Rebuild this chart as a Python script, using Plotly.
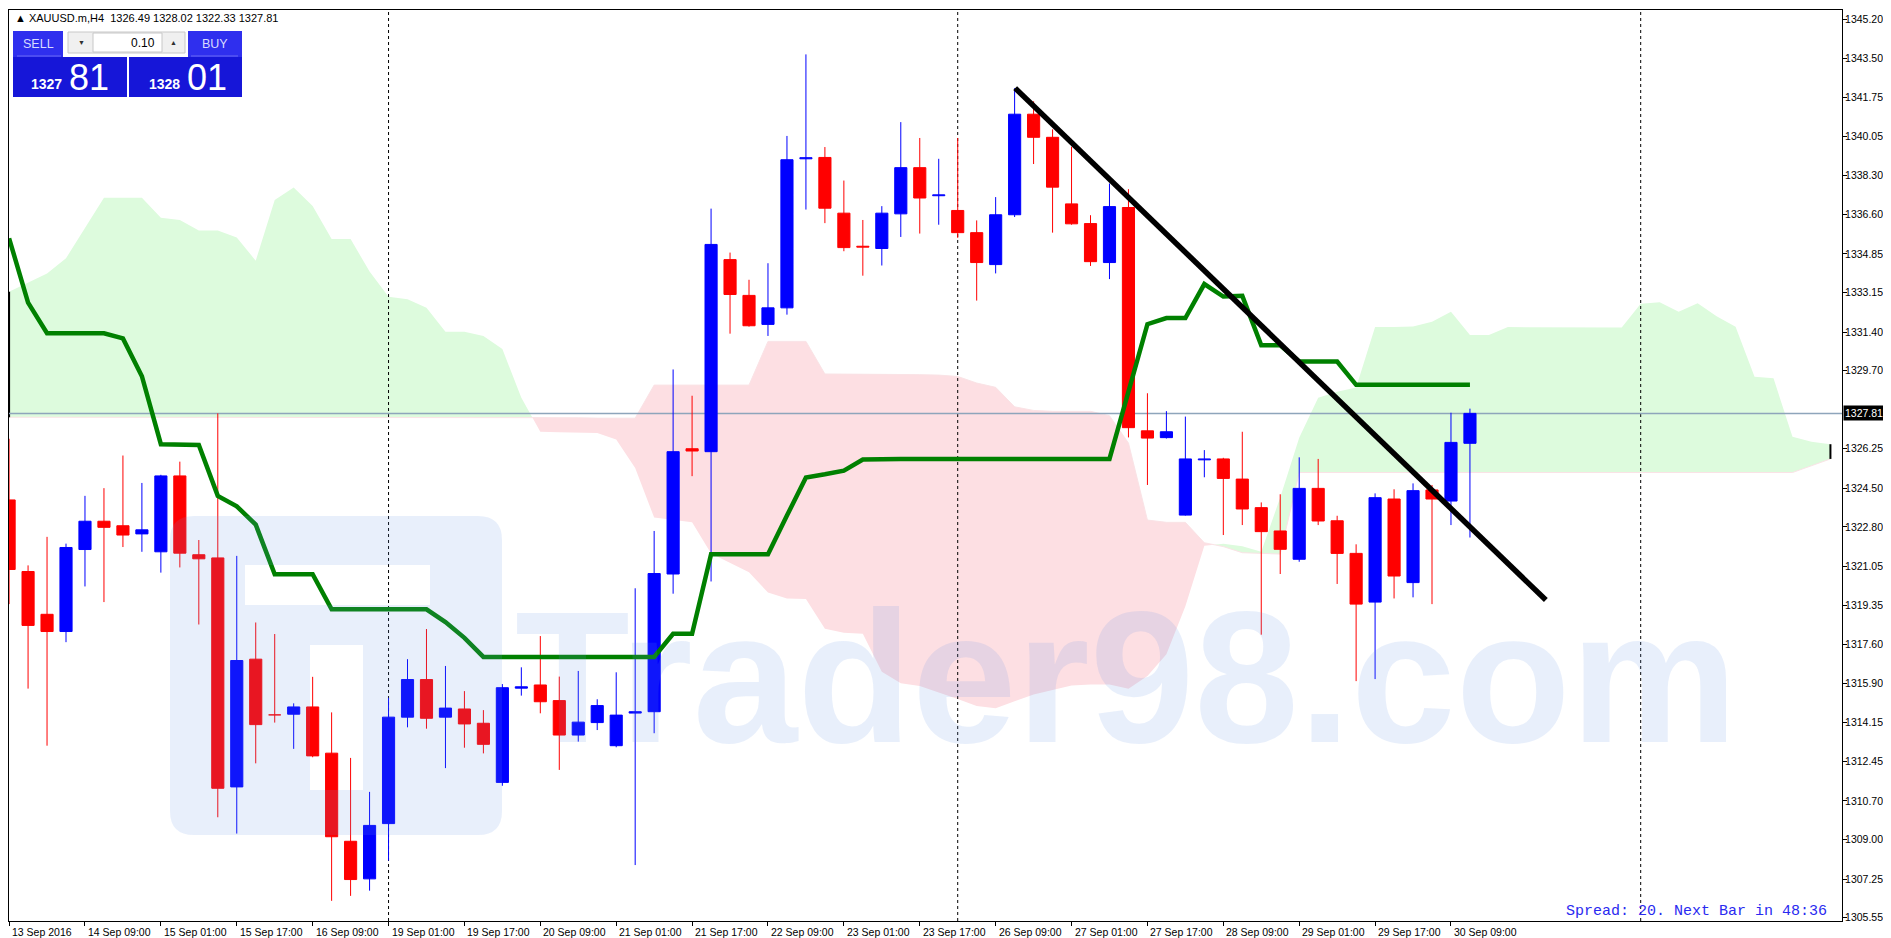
import plotly.graph_objects as go

# ---------------- data ----------------
symbol = "XAUUSD.m,H4"
tick_labels = ["13 Sep 2016", "14 Sep 09:00", "15 Sep 01:00", "15 Sep 17:00", "16 Sep 09:00",
               "19 Sep 01:00", "19 Sep 17:00", "20 Sep 09:00", "21 Sep 01:00", "21 Sep 17:00",
               "22 Sep 09:00", "23 Sep 01:00", "23 Sep 17:00", "26 Sep 09:00", "27 Sep 01:00",
               "27 Sep 17:00", "28 Sep 09:00", "29 Sep 01:00", "29 Sep 17:00", "30 Sep 09:00"]
bars_per_label = 4

opens = [1323.99, 1320.83, 1318.94, 1318.18, 1321.80, 1323.05, 1322.85, 1322.49, 1321.70, 1325.05,
         1321.57, 1321.43, 1311.32, 1316.96, 1314.53, 1314.53, 1314.85, 1312.81, 1308.92, 1307.26,
         1309.70, 1314.40, 1316.06, 1314.40, 1314.76, 1314.13, 1311.52, 1315.68, 1315.82, 1315.13,
         1313.61, 1314.16, 1313.14, 1314.58, 1314.64, 1320.72, 1326.25, 1326.12, 1334.60, 1333.02,
         1331.74, 1332.47, 1339.05, 1339.11, 1336.65, 1335.19, 1335.09, 1336.62, 1338.66, 1337.42,
         1336.77, 1335.79, 1334.38, 1336.58, 1341.02, 1340.00, 1337.06, 1336.19, 1334.47, 1336.90,
         1327.04, 1326.74, 1323.32, 1325.76, 1325.80, 1324.91, 1323.65, 1322.62, 1321.37, 1324.50,
         1323.07, 1321.63, 1319.48, 1324.03, 1320.34, 1324.43, 1323.94, 1326.49]
highs = [1326.69, 1321.10, 1322.36, 1322.06, 1324.17, 1324.51, 1325.95, 1324.74, 1325.10, 1325.68,
         1322.22, 1327.81, 1321.52, 1318.58, 1318.07, 1315.01, 1316.18, 1314.61, 1312.60, 1311.10,
         1315.25, 1316.96, 1318.29, 1316.66, 1315.55, 1314.71, 1315.86, 1316.60, 1317.98, 1316.19,
         1316.44, 1315.19, 1316.38, 1320.09, 1322.62, 1329.75, 1328.59, 1336.85, 1334.91, 1333.71,
         1334.44, 1340.06, 1343.66, 1339.57, 1338.09, 1336.35, 1336.96, 1340.67, 1339.97, 1339.05,
         1339.97, 1336.33, 1337.36, 1342.17, 1341.59, 1340.35, 1339.58, 1336.56, 1337.96, 1337.71,
         1328.70, 1327.91, 1327.67, 1326.19, 1325.85, 1327.00, 1323.88, 1324.24, 1325.87, 1325.80,
         1323.29, 1322.03, 1324.28, 1324.46, 1324.72, 1324.65, 1327.84, 1328.02]
lows = [1319.39, 1315.66, 1313.14, 1317.71, 1320.17, 1319.48, 1321.91, 1321.70, 1320.78, 1321.01,
        1318.49, 1309.98, 1309.26, 1312.36, 1314.16, 1313.00, 1312.63, 1306.29, 1306.51, 1306.74,
        1308.07, 1313.95, 1313.89, 1312.15, 1313.05, 1312.80, 1311.37, 1315.35, 1314.57, 1312.07,
        1313.32, 1313.83, 1313.07, 1307.87, 1313.69, 1319.85, 1325.04, 1320.39, 1331.33, 1331.64,
        1331.23, 1332.17, 1336.81, 1336.21, 1334.97, 1333.89, 1334.34, 1335.60, 1335.75, 1336.14,
        1335.56, 1332.79, 1333.99, 1336.48, 1338.82, 1335.79, 1336.14, 1334.32, 1333.74, 1326.75,
        1324.65, 1326.70, 1323.30, 1324.99, 1322.44, 1322.88, 1318.04, 1320.72, 1321.26, 1322.88,
        1320.28, 1315.99, 1316.08, 1319.64, 1319.69, 1319.39, 1322.88, 1322.33]
closes = [1320.92, 1318.45, 1318.18, 1321.89, 1323.05, 1322.78, 1322.44, 1322.67, 1325.05, 1321.64,
          1321.39, 1311.26, 1316.90, 1314.07, 1314.50, 1314.85, 1312.69, 1309.12, 1307.23, 1309.62,
          1314.40, 1316.06, 1314.35, 1314.80, 1314.10, 1313.20, 1315.70, 1315.74, 1315.08, 1313.61,
          1314.18, 1314.91, 1314.49, 1314.64, 1320.74, 1326.12, 1326.15, 1335.27, 1333.06, 1331.68,
          1332.47, 1339.01, 1339.10, 1336.87, 1335.13, 1335.15, 1336.65, 1338.66, 1337.32, 1337.46,
          1335.79, 1334.47, 1336.58, 1341.02, 1340.00, 1337.80, 1336.18, 1334.51, 1336.94, 1327.18,
          1326.72, 1327.00, 1325.80, 1325.80, 1324.94, 1323.59, 1322.59, 1321.81, 1324.50, 1323.06,
          1321.63, 1319.39, 1324.09, 1320.63, 1324.40, 1324.03, 1326.53, 1327.81]

kijun = [1335.54, 1332.70, 1331.35, 1331.35, 1331.35, 1331.35, 1331.12, 1329.45, 1326.45, 1326.42,
         1326.42, 1324.17, 1323.71, 1322.90, 1320.71, 1320.71, 1320.71, 1319.16, 1319.16, 1319.16,
         1319.16, 1319.16, 1319.16, 1318.60, 1317.90, 1317.06, 1317.06, 1317.06, 1317.06, 1317.06,
         1317.06, 1317.06, 1317.06, 1317.06, 1317.06, 1318.08, 1318.08, 1321.59, 1321.59, 1321.59,
         1321.59, 1323.30, 1324.98, 1325.12, 1325.28, 1325.77, 1325.80, 1325.80, 1325.80, 1325.80,
         1325.80, 1325.80, 1325.80, 1325.80, 1325.80, 1325.80, 1325.80, 1325.80, 1325.80, 1328.77,
         1331.75, 1332.02, 1332.02, 1333.52, 1332.97, 1333.00, 1330.82, 1330.82, 1330.10, 1330.10,
         1330.10, 1329.07, 1329.07, 1329.07, 1329.07, 1329.07, 1329.07, 1329.07]

span_a = [1333.18, 1333.60, 1333.99, 1334.66, 1336.02, 1337.33, 1337.33, 1337.33, 1336.45, 1336.35,
          1335.88, 1335.88, 1335.58, 1334.55, 1337.23, 1337.78, 1336.97, 1335.51, 1335.51, 1334.07,
          1332.96, 1332.85, 1332.48, 1331.42, 1331.42, 1331.23, 1330.65, 1328.50, 1327.00, 1326.98,
          1326.96, 1326.95, 1326.66, 1325.40, 1323.21, 1323.10, 1323.01, 1321.63, 1321.20, 1320.80,
          1319.90, 1319.64, 1319.62, 1318.30, 1318.13, 1318.08, 1316.40, 1315.90, 1315.78, 1315.50,
          1315.20, 1314.89, 1314.79, 1315.10, 1315.40, 1315.60, 1315.80, 1315.84, 1315.84, 1315.65,
          1316.22, 1317.18, 1319.30, 1321.97, 1322.05, 1321.95, 1321.70, 1324.10, 1326.73, 1328.50,
          1328.77, 1328.95, 1331.62, 1331.62, 1331.65, 1331.86, 1332.30, 1331.27, 1331.27, 1331.62,
          1331.62, 1331.62, 1331.62, 1331.62, 1331.62, 1331.60, 1332.65, 1332.72, 1332.30, 1332.67,
          1332.10, 1331.64, 1329.43, 1329.36, 1326.78, 1326.56, 1326.45]
span_b = [1327.64, 1327.64, 1327.64, 1327.64, 1327.64, 1327.64, 1327.64, 1327.64, 1327.64, 1327.64,
          1327.64, 1327.64, 1327.64, 1327.64, 1327.64, 1327.64, 1327.64, 1327.64, 1327.64, 1327.64,
          1327.64, 1327.64, 1327.64, 1327.64, 1327.64, 1327.64, 1327.64, 1327.64, 1327.64, 1327.62,
          1327.62, 1327.60, 1327.60, 1327.60, 1329.06, 1329.06, 1329.06, 1329.06, 1329.06, 1329.06,
          1330.99, 1330.99, 1330.99, 1329.55, 1329.55, 1329.55, 1329.55, 1329.55, 1329.52, 1329.50,
          1329.44, 1329.15, 1328.96, 1328.10, 1327.94, 1327.90, 1327.90, 1327.90, 1327.71, 1326.50,
          1323.10, 1323.00, 1323.00, 1322.10, 1321.93, 1321.66, 1321.63, 1321.60, 1325.20, 1325.20,
          1325.20, 1325.20, 1325.20, 1325.20, 1325.20, 1325.20, 1325.20, 1325.20, 1325.20, 1325.20,
          1325.20, 1325.20, 1325.20, 1325.20, 1325.20, 1325.20, 1325.20, 1325.20, 1325.20, 1325.20,
          1325.20, 1325.20, 1325.20, 1325.20, 1325.20, 1325.50, 1325.80]

price_ticks = [1345.20, 1343.50, 1341.75, 1340.05, 1338.30, 1336.60, 1334.85, 1333.15, 1331.40,
               1329.70, 1326.25, 1324.50, 1322.80, 1321.05, 1319.35, 1317.60, 1315.90, 1314.15,
               1312.45, 1310.70, 1309.00, 1307.25, 1305.55]
week_separators = [20, 50, 86]
trend_x = [53.03, 81.0]
trend_y = [1342.17, 1319.57]
bid = 1327.81
ask = 1328.01
spread_points = 20
next_bar = "48:36"
lot = "0.10"

# ---------------- geometry ----------------
# reference pixel frame is 1891x938; the page body adds an 8px margin, so the
# figure itself is 8px smaller and everything is expressed in paper units.
PAGE_W, PAGE_H, BODY = 1891, 938, 8
W, H = PAGE_W - BODY, PAGE_H - BODY
L, R, T, B = 9, 1842, 10, 921          # plot frame in reference pixels
X_MIN, X_MAX = -0.005, 96.61
Y_MIN, Y_MAX = 1305.40, 1345.62


def px(x):
    return (x - L) / (R - L)


def py(y):
    return (B - y) / (B - T)


fig = go.Figure()


# ---------------- Ichimoku cloud ----------------
def cloud_regions(a, b):
    pts = []
    n = len(a)
    for i in range(n):
        pts.append((i, a[i], b[i], False))
        if i < n - 1:
            d0 = a[i] - b[i]
            d1 = a[i + 1] - b[i + 1]
            if d0 * d1 < 0:
                t = d0 / (d0 - d1)
                yc = a[i] + t * (a[i + 1] - a[i])
                pts.append((i + t, yc, yc, True))
    regions, cur = [], [pts[0]]
    for p in pts[1:]:
        cur.append(p)
        if p[3]:
            regions.append(cur)
            cur = [p]
    regions.append(cur)
    green, pink = ([], []), ([], [])
    for reg in regions:
        s = sum(p[1] - p[2] for p in reg)
        xs = [p[0] for p in reg] + [p[0] for p in reversed(reg)]
        ys = [p[1] for p in reg] + [p[2] for p in reversed(reg)]
        tgt = green if s >= 0 else pink
        tgt[0].extend(xs + [xs[0], None])
        tgt[1].extend(ys + [ys[0], None])
    return green, pink


green_poly, pink_poly = cloud_regions(span_a, span_b)
GREEN_FILL = "#ddfbdd"
PINK_FILL = "#fddfe3"
fig.add_trace(go.Scatter(x=green_poly[0], y=green_poly[1], mode="lines", fill="toself",
                         fillcolor=GREEN_FILL, line=dict(width=0, color=GREEN_FILL),
                         hoverinfo="skip", showlegend=False))
fig.add_trace(go.Scatter(x=pink_poly[0], y=pink_poly[1], mode="lines", fill="toself",
                         fillcolor=PINK_FILL, line=dict(width=0, color=PINK_FILL),
                         hoverinfo="skip", showlegend=False))
fig.add_trace(go.Scatter(x=list(range(len(span_b))), y=span_b, mode="lines",
                         line=dict(width=1, color="#fae3e6"), hoverinfo="skip", showlegend=False))
last = len(span_a) - 1
fig.add_trace(go.Scatter(x=[0, 0, None, last, last],
                         y=[span_b[0], span_a[0], None, span_b[last], span_a[last]],
                         mode="lines", line=dict(width=2, color="black"),
                         hoverinfo="skip", showlegend=False))

# ---------------- period separators & bid line ----------------
for s in week_separators:
    fig.add_trace(go.Scatter(x=[s, s], y=[Y_MIN, Y_MAX], mode="lines",
                             line=dict(width=1, color="black", dash="3px,3px"),
                             hoverinfo="skip", showlegend=False))
fig.add_trace(go.Scatter(x=[X_MIN, X_MAX], y=[bid, bid], mode="lines",
                         line=dict(width=1.5, color="#8ea5bb"), hoverinfo="skip", showlegend=False))

# ---------------- candles ----------------
UP, DOWN = "#0000ff", "#ff0000"
HALF = 0.32
wick = {UP: ([], []), DOWN: ([], [])}
body = {UP: ([], []), DOWN: ([], [])}
for i in range(len(opens)):
    o, h, l, c = opens[i], highs[i], lows[i], closes[i]
    col = UP if c >= o else DOWN
    wick[col][0].extend([i, i, None])
    wick[col][1].extend([l, h, None])
    lo, hi = min(o, c), max(o, c)
    if hi - lo < 0.03:
        mid = (hi + lo) / 2
        lo, hi = mid - 0.015, mid + 0.015
    body[col][0].extend([i - HALF, i + HALF, i + HALF, i - HALF, i - HALF, None])
    body[col][1].extend([lo, lo, hi, hi, lo, None])
for col in (UP, DOWN):
    fig.add_trace(go.Scatter(x=wick[col][0], y=wick[col][1], mode="lines",
                             line=dict(width=1, color=col), hoverinfo="skip", showlegend=False))
for col in (UP, DOWN):
    fig.add_trace(go.Scatter(x=body[col][0], y=body[col][1], mode="lines", fill="toself",
                             fillcolor=col, line=dict(width=1, color=col),
                             hoverinfo="skip", showlegend=False))

# ---------------- Kijun & trendline ----------------
fig.add_trace(go.Scatter(x=list(range(len(kijun))), y=kijun, mode="lines",
                         line=dict(width=4.5, color="#008000"), hoverinfo="skip", showlegend=False))
fig.add_trace(go.Scatter(x=trend_x, y=trend_y, mode="lines",
                         line=dict(width=5.5, color="black"), hoverinfo="skip", showlegend=False))

# ---------------- annotations & shapes ----------------
AX_FONT = "Liberation Sans, Arial, sans-serif"
annotations = []
shapes = []

for k, lab in enumerate(tick_labels):
    annotations.append(dict(x=k * bars_per_label, xref="x", y=py(932), yref="paper",
                            text=lab, showarrow=False, xanchor="left", yanchor="middle",
                            xshift=1, font=dict(family=AX_FONT, size=10.5, color="black")))

annotations.append(dict(x=1, xref="paper", y=bid, yref="y", text="%.2f" % bid, showarrow=False,
                        xanchor="left", yanchor="middle", xshift=1, bgcolor="black", borderpad=1,
                        font=dict(family=AX_FONT, size=10.5, color="white")))

# watermark
WM = "rgba(100,150,230,0.15)"
annotations.append(dict(x=px(513), xref="paper", y=py(677), yref="paper", text="Trader98.com",
                        showarrow=False, xanchor="left", yanchor="middle",
                        font=dict(family="Liberation Sans, Arial, sans-serif",
                                  size=188, color=WM, weight="bold")))


def rounded_rect_path(x0, y0, x1, y1, r):
    return ("M{a},{b} L{c},{b} Q{x1},{b} {x1},{d} L{x1},{e} Q{x1},{y1p} {c},{y1p} "
            "L{a},{y1p} Q{x0},{y1p} {x0},{e} L{x0},{d} Q{x0},{b} {a},{b} Z").format(
        a=px(x0 + r), b=py(y0), c=px(x1 - r), d=py(y0 + r), e=py(y1 - r),
        x0=px(x0), x1=px(x1), y1p=py(y1))


def hole_path(x0, y0, x1, y1):
    return "M{a},{b} L{a},{d} L{c},{d} L{c},{b} Z".format(a=px(x0), b=py(y0), c=px(x1), d=py(y1))


icon_path = rounded_rect_path(170, 516, 502, 835, 24) + " " + hole_path(245, 565, 430, 605) + " " + \
    hole_path(310, 645, 363, 790)
shapes.append(dict(type="path", xref="paper", yref="paper", path=icon_path, fillcolor=WM,
                   line=dict(width=0), layer="above"))

# title line
annotations.append(dict(x=px(13), xref="paper", y=py(18), yref="paper",
                        text="\u25b2 %s  %.2f %.2f %.2f %.2f" % (symbol, opens[-1], highs[-1], lows[-1], closes[-1]),
                        showarrow=False, xanchor="left", yanchor="middle",
                        font=dict(family=AX_FONT, size=11, color="black")))

# trade panel
BLUE = "#1616d8"
BLUE_H = "#2f2fee"


def rect(x0, y0, x1, y1, fill, lc=None, lw=0):
    shapes.append(dict(type="rect", xref="paper", yref="paper", x0=px(x0), x1=px(x1),
                       y0=py(y1), y1=py(y0), fillcolor=fill,
                       line=dict(width=lw, color=lc or fill), layer="above"))


def label(x, y, text, size, color="white", anchor="center", family=AX_FONT, weight="normal"):
    annotations.append(dict(x=px(x), xref="paper", y=py(y), yref="paper", text=text,
                            showarrow=False, xanchor=anchor, yanchor="middle",
                            font=dict(family=family, size=size, color=color, weight=weight)))


rect(13, 31, 63, 57, BLUE_H)
rect(13, 57, 127, 97, BLUE)
rect(188, 31, 242, 57, BLUE_H)
rect(129, 57, 242, 97, BLUE)
shapes.append(dict(type="line", xref="paper", yref="paper", x0=px(17), x1=px(61), y0=py(56), y1=py(56),
                   line=dict(color="#6a6af5", width=1), layer="above"))
shapes.append(dict(type="line", xref="paper", yref="paper", x0=px(191), x1=px(238), y0=py(56), y1=py(56),
                   line=dict(color="#6a6af5", width=1), layer="above"))
rect(68, 32, 185, 53, "#f0f0f0", "#c8c8c8", 1)
rect(93, 33, 162, 52, "white", "#c8c8c8", 1)
label(38, 44, "SELL", 12.5, "#d8dcff")
label(215, 44, "BUY", 12.5, "#d8dcff")
label(81, 42, "\u25bc", 7, "#303030")
label(173, 42, "\u25b2", 7, "#303030")
label(157, 43, lot, 12, "black", anchor="right")
bid_s = "%.2f" % bid
ask_s = "%.2f" % ask
label(64, 84, bid_s[:4], 14, anchor="right", weight="bold")
label(67, 78, bid_s[5:], 36, anchor="left")
label(182, 84, ask_s[:4], 14, anchor="right", weight="bold")
label(185, 78, ask_s[5:], 36, anchor="left")

# spread info
annotations.append(dict(x=px(1829), xref="paper", y=py(911), yref="paper",
                        text="Spread: %d. Next Bar in %s" % (spread_points, next_bar),
                        showarrow=False, xanchor="right", yanchor="middle",
                        font=dict(family="Liberation Mono, DejaVu Sans Mono, monospace", size=15, color="#2a2af0")))

fig.update_layout(
    width=W, height=H, autosize=False,
    margin=dict(l=L - BODY, r=PAGE_W - R, t=T - BODY, b=PAGE_H - B, pad=0),
    paper_bgcolor="white", plot_bgcolor="white",
    showlegend=False,
    annotations=annotations, shapes=shapes,
    xaxis=dict(range=[X_MIN, X_MAX], showgrid=False, zeroline=False,
               tickmode="array", tickvals=[k * bars_per_label for k in range(len(tick_labels))],
               showticklabels=False, ticks="outside", ticklen=4, tickcolor="black",
               showline=True, linecolor="black", linewidth=1, mirror=True, fixedrange=True),
    yaxis=dict(range=[Y_MIN, Y_MAX], side="right", showgrid=False, zeroline=False,
               tickmode="array", tickvals=price_ticks, ticktext=["%.2f" % v for v in price_ticks],
               ticks="outside", ticklen=4, tickcolor="black", ticklabelstandoff=-4,
               tickfont=dict(family=AX_FONT, size=10.5, color="black"),
               showline=True, linecolor="black", linewidth=1, mirror=True, fixedrange=True),
)

fig.write_html("out.html")
